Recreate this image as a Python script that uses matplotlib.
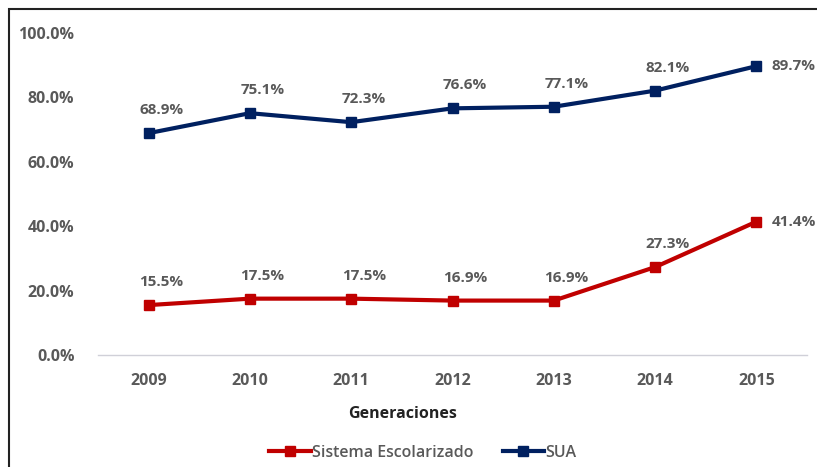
import matplotlib.pyplot as plt
from matplotlib.patches import Rectangle

# data
years = ["2009", "2010", "2011", "2012", "2013", "2014", "2015"]
sua = [68.9, 75.1, 72.3, 76.6, 77.1, 82.1, 89.7]
escolarizado = [15.5, 17.5, 17.5, 16.9, 16.9, 27.3, 41.4]
yticks = [0, 20, 40, 60, 80, 100]

navy = "#002060"
red = "#C00000"
grey = "#595959"

plt.rcParams['font.family'] = ['Open Sans', 'DejaVu Sans']

fig = plt.figure(figsize=(8.17, 4.67), dpi=100)
ax = fig.add_axes([98 / 817, 1 - 355 / 467, 709 / 817, 322 / 467])

x = list(range(len(years)))
ax.plot(x, escolarizado, color=red, lw=3, marker='s', ms=7, label="Sistema Escolarizado")
ax.plot(x, sua, color=navy, lw=3, marker='s', ms=7, label="SUA")

# data labels - last point goes to the right
for series in (sua, escolarizado):
    for i, v in enumerate(series):
        if i == len(series) - 1:
            ax.annotate(f"{v:.1f}%", (i, v), xytext=(11, 0), textcoords='offset points',
                        ha='left', va='center', fontsize=11, fontweight='bold', color=grey)
        else:
            ax.annotate(f"{v:.1f}%", (i, v), xytext=(9, 16.5), textcoords='offset points',
                        ha='center', va='center', fontsize=11, fontweight='bold', color=grey)

ax.set_xlim(-0.5, len(years) - 0.5)
ax.set_ylim(0, 100)
ax.set_xticks(x)
ax.set_xticklabels(years, fontsize=11.5, fontweight='bold', color=grey)
ax.set_yticks(yticks)
ax.set_yticklabels([f"{t:.1f}%" for t in yticks], fontsize=11.5, fontweight='bold', color=grey)
ax.tick_params(length=0)
ax.tick_params(axis='x', pad=13)
ax.tick_params(axis='y', pad=17)

for s in ['top', 'right', 'left']:
    ax.spines[s].set_visible(False)
ax.spines['bottom'].set_color("#D0D0D8")
ax.spines['bottom'].set_linewidth(1)

ax.set_xlabel("Generaciones", fontsize=11.5, fontweight='bold', color="#222222")
ax.xaxis.set_label_coords((403 - 98) / 709, -(406 - 355) / 322)

fig.legend(loc='center', bbox_to_anchor=(423 / 817, 1 - 453 / 467), ncol=2, frameon=False,
           fontsize=11.5, handlelength=2.6, columnspacing=1.8, handletextpad=0.1,
           labelcolor=grey, prop={'weight': 'semibold', 'size': 11.5})

# outer border (only top and left visible in the crop)
fig.patches.append(Rectangle((9 / 817, -0.1), 1.2, 1 - 9 / 467 + 0.1, transform=fig.transFigure,
                             fill=False, edgecolor='#222222', lw=1.5))

fig.savefig("out.png", dpi=100)
